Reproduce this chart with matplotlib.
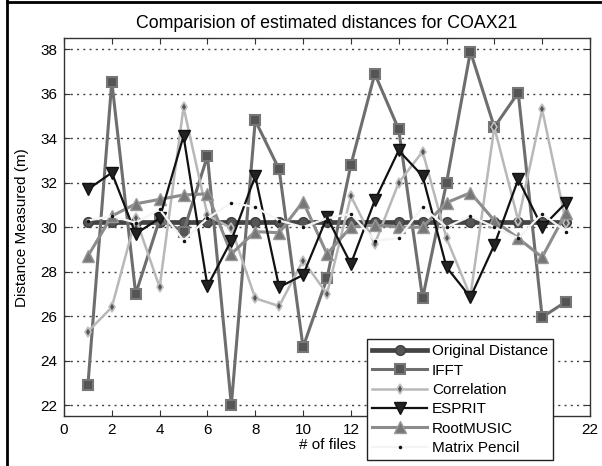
import matplotlib
matplotlib.use("Agg")
import matplotlib.pyplot as plt
from matplotlib.lines import Line2D

plt.rcParams['font.family'] = ['Liberation Sans', 'DejaVu Sans']

files = list(range(1, 22))
original = [30.25] * 21
ifft = [22.9, 36.55, 27.0, 30.35, 29.8, 33.2, 22.0, 34.8, 32.6, 24.6, 27.7,
        32.8, 36.9, 34.4, 26.8, 32.0, 37.9, 34.5, 36.05, 25.95, 26.65]
correlation = [25.3, 26.4, 30.4, 27.3, 35.4, 30.55, 29.95, 26.8, 26.45, 28.5, 27.0,
               31.4, 29.25, 32.0, 33.4, 29.5, 26.9, 34.5, 30.3, 35.3, 30.2]
esprit = [31.7, 32.45, 29.7, 30.4, 34.1, 27.35, 29.4, 32.3, 27.3, 27.85, 30.45,
          28.35, 31.2, 33.45, 32.3, 28.2, 26.85, 29.2, 32.15, 30.0, 31.1]
rootmusic = [28.7, 30.5, 31.05, 31.25, 31.45, 31.5, 28.8, 29.8, 29.75, 31.15, 28.8,
             30.0, 30.1, 30.0, 30.0, 31.1, 31.55, 30.3, 29.5, 28.65, 30.65]
matrix_pencil = [30.3, 30.5, 30.2, 30.8, 29.4, 30.4, 31.1, 30.9, 30.3, 30.0, 30.4,
                 30.6, 29.4, 29.5, 30.9, 30.0, 30.5, 30.0, 29.5, 30.6, 29.8]

title = "Comparision of estimated distances for COAX21"
xlabel = "# of files"
ylabel = "Distance Measured (m)"
xticks = list(range(0, 23, 2))
yticks = list(range(22, 39, 2))
# tick labels 14-20 sit behind the legend box in the original
xticklabels = ['0', '2', '4', '6', '8', '10', '12', '', '', '', '', '22']

fig = plt.figure(figsize=(6.02, 4.66), dpi=100)
ax = fig.add_axes([0.1063, 0.107, 0.8737, 0.811])

ax.plot(files, original, color='#444444', lw=3.4, marker='o', ms=7,
        mfc='#555555', mec='#404040', label='Original Distance', zorder=3)
ax.plot(files, ifft, color='#6e6e6e', lw=2.2, marker='s', ms=7,
        mfc='#555555', mec='#777777', mew=1.5, label='IFFT', zorder=4)
ax.plot(files, correlation, color='#b8b8b8', lw=1.8, marker='d', ms=5,
        mfc='#555555', mec='#c0c0c0', mew=1.2, label='Correlation', zorder=4)
ax.plot(files, esprit, color='#111111', lw=1.6, marker='v', ms=9,
        mfc='#222222', mec='#111111', label='ESPRIT', zorder=5)
ax.plot(files, rootmusic, color='#8c8c8c', lw=2.2, marker='^', ms=8,
        mfc='#777777', mec='#999999', label='RootMUSIC', zorder=4)
ax.plot(files, matrix_pencil, color='#f4f4f4', lw=1.6, marker='.', ms=3,
        mfc='#111111', mec='#111111', label='Matrix Pencil', zorder=6)

ax.set_xlim(0, 22)
ax.set_ylim(21.5, 38.5)
ax.set_xticks(xticks)
ax.set_xticklabels(xticklabels)
ax.set_yticks(yticks)
ax.tick_params(direction='in', top=True, right=True, labelsize=11, length=4,
               color='#333333', pad=5)
ax.yaxis.grid(True, linestyle=(0, (1.5, 3)), color='#444444', lw=1.0)
ax.set_axisbelow(True)
for s in ax.spines.values():
    s.set_color('#333333')
    s.set_linewidth(1.0)

ax.set_title(title, fontsize=12.8, pad=7)
ax.set_xlabel(xlabel, fontsize=11, labelpad=1)
ax.set_ylabel(ylabel, fontsize=11, labelpad=8)

leg = ax.legend(loc='upper left', bbox_to_anchor=(367/602, 1 - 339/466),
                bbox_transform=fig.transFigure, fontsize=11, frameon=True,
                fancybox=False, edgecolor='#222222', framealpha=1,
                handlelength=3.6, borderpad=0.35, labelspacing=0.35,
                handletextpad=0.3, borderaxespad=0)
leg.get_frame().set_linewidth(1.0)
leg.set_zorder(10)

fig.add_artist(Line2D([7/602, 7/602], [0, 1], transform=fig.transFigure,
                      color='black', lw=2))
fig.add_artist(Line2D([7/602, 1], [1 - 1.5/466, 1 - 1.5/466], transform=fig.transFigure,
                      color='black', lw=2))

fig.savefig('out.png', dpi=100, facecolor='white')
